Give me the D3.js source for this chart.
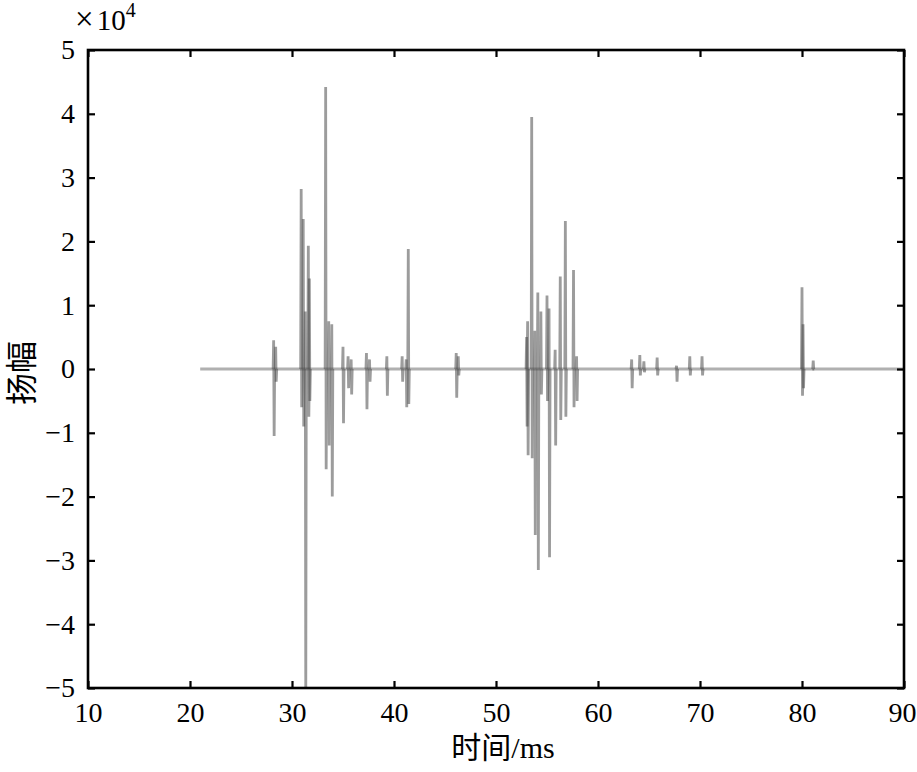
<!DOCTYPE html>
<html>
<head>
<meta charset="utf-8">
<script src="https://cdn.jsdelivr.net/npm/d3@7"></script>
<style>
  html, body { margin: 0; padding: 0; background: #fff; }
</style>
</head>
<body>
<svg id="chart" width="917" height="772"></svg>
<script>
// ---- data (amplitude in units of 10^4) ----
const xTicks = [10, 20, 30, 40, 50, 60, 70, 80, 90];
const yTicks = [-5, -4, -3, -2, -1, 0, 1, 2, 3, 4, 5];
const baselineStart = 21;   // ms
const baselineEnd = 90;     // ms
// spike events: time (ms), positive peak, negative peak
const spikeTime = [28.2, 28.4, 30.9, 31.1, 31.3, 31.6, 31.7, 33.3, 33.6, 33.9,
                   35.0, 35.5, 35.8, 37.3, 37.6, 39.3, 40.8, 41.2, 41.4, 46.1, 46.3,
                   53.0, 53.1, 53.5, 53.8, 54.1, 54.4, 55.0, 55.2, 55.8, 56.3, 56.8, 57.6, 57.9,
                   63.3, 64.1, 64.5, 65.8, 67.7, 69.0, 70.2, 80.0, 80.1, 81.1];
const spikeHigh = [0.45, 0.35, 2.82, 2.35, 0.9, 1.93, 1.42, 4.42, 0.75, 0.7,
                   0.35, 0.2, 0.15, 0.25, 0.15, 0.2, 0.2, 0.15, 1.88, 0.25, 0.2,
                   0.5, 0.75, 3.95, 0.6, 1.2, 0.9, 1.15, 0.95, 0.3, 1.45, 2.32, 1.55, 0.2,
                   0.15, 0.22, 0.12, 0.18, 0.05, 0.2, 0.2, 1.28, 0.7, 0.13];
const spikeLow  = [-1.05, -0.2, -0.6, -0.9, -5.2, -0.75, -0.5, -1.57, -1.2, -2.0,
                   -0.85, -0.3, -0.4, -0.63, -0.2, -0.42, -0.2, -0.6, -0.55, -0.45, -0.1,
                   -0.9, -1.35, -1.4, -2.6, -3.15, -0.4, -0.5, -2.95, -1.2, -0.8, -0.75, -0.6, -0.5,
                   -0.3, -0.1, -0.05, -0.1, -0.2, -0.1, -0.1, -0.42, -0.3, 0];

(function () {
const FONT = "'Liberation Serif', 'Times New Roman', 'DejaVu Serif', 'Noto Sans CJK SC', serif";
const svg = d3.select("#chart");
const mL = 88, mR = 904, mT = 50, mB = 688;

const x = d3.scaleLinear().domain([10, 90]).range([mL, mR]);
const y = d3.scaleLinear().domain([-5, 5]).range([mB, mT]);

svg.append("defs").append("clipPath").attr("id", "plotclip")
  .append("rect").attr("x", mL).attr("y", mT).attr("width", mR - mL).attr("height", mB - mT);

const plot = svg.append("g").attr("clip-path", "url(#plotclip)");

const line = d3.line().x(d => x(d[0])).y(d => y(d[1]));
plot.append("path")
  .attr("d", line([[baselineStart, 0], [baselineEnd, 0]]))
  .attr("fill", "none").attr("stroke", "#b0b0b0").attr("stroke-width", 2.8);

const dt = 0.05;
spikeTime.forEach((t, i) => {
  const pts = [[t - dt, 0], [t, spikeHigh[i]], [t + dt, spikeLow[i]], [t + 2 * dt, 0]];
  plot.append("path")
    .attr("d", line(pts))
    .attr("fill", "none")
    .attr("stroke", "#4a4a4a")
    .attr("stroke-opacity", 0.55)
    .attr("stroke-width", 2.8);
});

const fs = 28;
const axB = svg.append("g").attr("transform", `translate(0,${mB})`)
  .call(d3.axisBottom(x).tickValues(xTicks).tickSizeInner(-7).tickSizeOuter(0).tickPadding(14).tickFormat(d3.format("d")));
const axL = svg.append("g").attr("transform", `translate(${mL},0)`)
  .call(d3.axisLeft(y).tickValues(yTicks).tickSizeInner(-7).tickSizeOuter(0).tickPadding(13).tickFormat(d3.format("d")));
const axT = svg.append("g").attr("transform", `translate(0,${mT})`)
  .call(d3.axisTop(x).tickValues(xTicks).tickSizeInner(-7).tickSizeOuter(0).tickFormat(""));
const axR = svg.append("g").attr("transform", `translate(${mR},0)`)
  .call(d3.axisRight(y).tickValues(yTicks).tickSizeInner(-7).tickSizeOuter(0).tickFormat(""));

[axB, axL, axT, axR].forEach(g => {
  g.attr("font-family", null).attr("font-size", null);
  g.select(".domain").remove();
  g.selectAll(".tick line").attr("stroke", "#000").attr("stroke-width", 2.2);
  g.selectAll("text").style("font-family", FONT).style("font-size", fs + "px").style("fill", "#000");
});
// keep the last x label inside the window
axB.selectAll(".tick text").filter(d => d === 90).attr("text-anchor", "end").attr("x", 12);

svg.append("rect").attr("x", mL).attr("y", mT).attr("width", mR - mL).attr("height", mB - mT)
  .attr("fill", "none").attr("stroke", "#000").attr("stroke-width", 2.6);

const ex = svg.append("text").attr("x", 75).attr("y", 30)
  .style("font-family", FONT).style("font-size", "29px");
ex.append("tspan").style("font-size", "33px").text("×");
ex.append("tspan").attr("dx", 3).text("10");
ex.append("tspan").attr("dy", -13).style("font-size", "20px").text("4");

svg.append("text").attr("x", 503).attr("y", 758).attr("text-anchor", "middle")
  .style("font-family", FONT).style("font-size", "30px").text("时间/ms");
svg.append("text").attr("transform", `translate(33,373) rotate(-90)`)
  .attr("text-anchor", "middle")
  .style("font-family", FONT).style("font-size", "32px").text("扬幅");
})();
</script>
</body>
</html>
